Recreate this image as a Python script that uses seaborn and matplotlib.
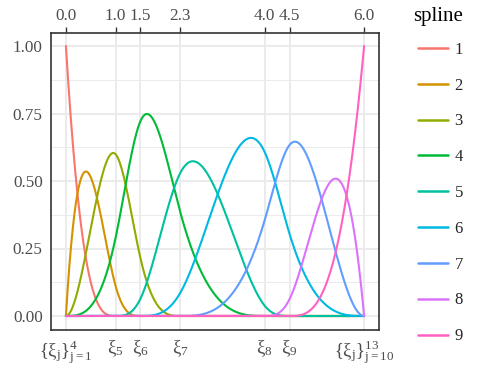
import numpy as np
import pandas as pd
import matplotlib
matplotlib.use("Agg")
import matplotlib.pyplot as plt
import seaborn as sns

# ---- data ----
boundary_knots = [0.0, 6.0]
interior_knots = [1.0, 1.5, 2.3, 4.0, 4.5]
degree = 3
spline_ids = ["1", "2", "3", "4", "5", "6", "7", "8", "9"]
top_labels = ["0.0", "1.0", "1.5", "2.3", "4.0", "4.5", "6.0"]
bottom_labels = [r"$\mathrm{\{ξ_j\}_{j=1}^{4}}$", r"$\mathrm{ξ_5}$", r"$\mathrm{ξ_6}$",
                 r"$\mathrm{ξ_7}$", r"$\mathrm{ξ_8}$", r"$\mathrm{ξ_9}$",
                 r"$\mathrm{\{ξ_j\}_{j=10}^{13}}$"]
y_ticks = [0.0, 0.25, 0.50, 0.75, 1.00]
y_labels = ["0.00", "0.25", "0.50", "0.75", "1.00"]
colors = ["#F8766D", "#D39200", "#93AA00", "#00BA38", "#00C19F",
          "#00B9E3", "#619CFF", "#DB72FB", "#FF61C3"]

# full knot vector (boundary repeated degree+1 times)
t = np.array([boundary_knots[0]] * (degree + 1) + interior_knots + [boundary_knots[1]] * (degree + 1))
x = np.linspace(boundary_knots[0], boundary_knots[1], 1201)


def bspline_basis(xv, t, k):
    B = np.zeros((len(xv), len(t) - 1))
    for i in range(len(t) - 1):
        B[:, i] = ((xv >= t[i]) & (xv < t[i + 1])).astype(float)
    last = np.where(t < t[-1])[0][-1]
    B[xv == t[-1], last] = 1.0
    for d in range(1, k + 1):
        Bn = np.zeros((len(xv), len(t) - 1 - d))
        for i in range(len(t) - 1 - d):
            a = np.zeros(len(xv))
            den1 = t[i + d] - t[i]
            if den1 > 0:
                a = a + (xv - t[i]) / den1 * B[:, i]
            den2 = t[i + d + 1] - t[i + 1]
            if den2 > 0:
                a = a + (t[i + d + 1] - xv) / den2 * B[:, i + 1]
            Bn[:, i] = a
        B = Bn
    return B


basis = bspline_basis(x, t, degree)
frames = []
for j, sid in enumerate(spline_ids):
    frames.append(pd.DataFrame({"x": x, "value": basis[:, j], "spline": sid}))
df = pd.concat(frames, ignore_index=True)

# ---- plot ----
sns.set_theme(style="white")
plt.rcParams["font.family"] = ["Liberation Serif", "DejaVu Serif"]
plt.rcParams["mathtext.fontset"] = "custom"
plt.rcParams["mathtext.rm"] = "Liberation Serif"
plt.rcParams["mathtext.it"] = "Liberation Serif:italic"

fig = plt.figure(figsize=(4.88, 3.75), dpi=100)
ax = fig.add_axes([51 / 488, 1 - 329.5 / 375, (379 - 51) / 488, (329.5 - 32.5) / 375])

sns.lineplot(data=df, x="x", y="value", hue="spline", hue_order=spline_ids,
             palette=colors, linewidth=1.5, estimator=None, ax=ax, legend=True)

xt = [boundary_knots[0]] + interior_knots + [boundary_knots[1]]
ax.set_xlim(-0.3, 6.3)
ax.set_ylim(-0.05, 1.05)
ax.set_xticks(xt)
ax.set_xticklabels(bottom_labels, fontsize=13.5)
ax.set_yticks(y_ticks)
ax.set_yticklabels(y_labels)
ax.set_yticks([0.125, 0.375, 0.625, 0.875], minor=True)
ax.set_xlabel("")
ax.set_ylabel("")
ax.grid(True, which="major", color="#EBEBEB", linewidth=1.4)
ax.grid(True, which="minor", axis="y", color="#EBEBEB", linewidth=0.7)
ax.set_axisbelow(True)
ax.tick_params(which="minor", length=0)
ax.tick_params(which="major", length=3.5, width=1.0, color="#333333",
               labelcolor="#4D4D4D", pad=2.5)
ax.tick_params(axis="y", labelsize=12.3)
for s in ax.spines.values():
    s.set_color("#333333")
    s.set_linewidth(1.2)

sec = ax.secondary_xaxis("top")
sec.set_xticks(xt)
sec.set_xticklabels(top_labels)
sec.tick_params(length=3.5, width=1.0, color="#333333", labelcolor="#4D4D4D",
                labelsize=12.3, pad=2.5)
sec.spines["top"].set_visible(False)

handles, labels = ax.get_legend_handles_labels()
ax.get_legend().remove()
for h in handles:
    h.set_linewidth(1.8)
fig.text(438 / 488, 1 - 16 / 375, "spline", fontsize=15, ha="center", va="center",
         color="black")
leg = fig.legend(handles, labels, loc="center left",
                 bbox_to_anchor=(418 / 488, 1 - 193 / 375), frameon=False,
                 fontsize=12, handlelength=1.8, borderpad=0, borderaxespad=0,
                 labelspacing=1.19, handletextpad=0.4)

fig.savefig("out.png", dpi=100)
